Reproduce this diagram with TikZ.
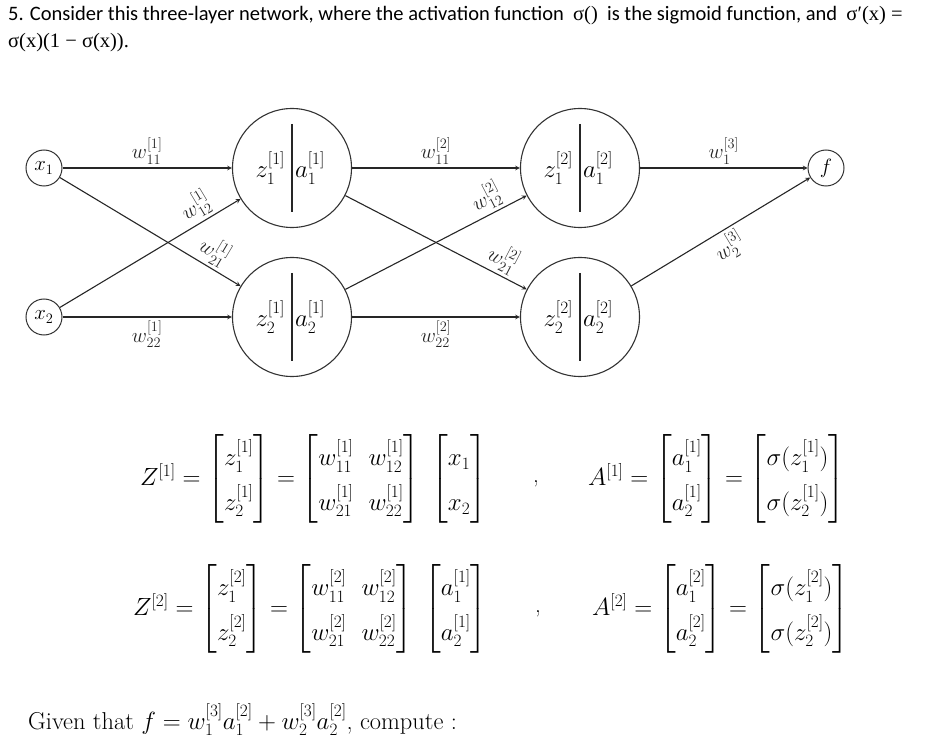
\documentclass[tikz,border=0pt]{standalone}
\usepackage{amsmath}
\usepackage{fontspec}
\newfontfamily\calib{Carlito}
\newfontfamily\serifm{Liberation Serif}
\renewcommand{\arraystretch}{1.6}
\setlength{\arraycolsep}{7.5pt}
\begin{document}
\begin{tikzpicture}[x=1pt,y=-1pt,>=stealth,
  io/.style={circle,draw=black!80,line width=1pt,minimum size=36pt,inner sep=0pt,font=\fontsize{22}{26}\selectfont},
  neuron/.style={circle,draw=black!80,line width=1.1pt,minimum size=119pt,inner sep=0pt,font=\fontsize{26}{30}\selectfont,
    path picture={\draw[black!85,line width=1.1pt] ([yshift=44pt]path picture bounding box.center)--([yshift=-44pt]path picture bounding box.center);}},
  conn/.style={->,black!85,line width=1.1pt},
  wlab/.style={font=\fontsize{22}{26}\selectfont,inner sep=3pt},
  eqn/.style={anchor=west,inner sep=0pt,font=\fontsize{23}{28}\selectfont}]
  \useasboundingbox (0,0) rectangle (938,754);
  % question text
  \node[anchor=base west,inner sep=0pt,font=\calib\fontsize{20.5}{24}\selectfont] (q1) at (8,21)
    {5. Consider this three-layer network, where the activation function \ {\serifm σ()} \ is the sigmoid function, and \ {\serifm σ′(x) =}};
  \node[anchor=base west,inner sep=0pt,font=\serifm\fontsize{20.5}{24}\selectfont] (q2) at (8,48) {σ(x)(1 − σ(x)).};
  % inputs and output
  \node[io] (x1) at (44,168) {$x_1$};
  \node[io] (x2) at (44,317) {$x_2$};
  \node[io] (f) at (826,168) {$f$};
  % hidden layers
  \node[neuron] (h11) at (292,168) {\llap{$z_1^{[1]}$\kern7pt}\rlap{\kern3pt$a_1^{[1]}$}};
  \node[neuron] (h12) at (292,317) {\llap{$z_2^{[1]}$\kern7pt}\rlap{\kern3pt$a_2^{[1]}$}};
  \node[neuron] (h21) at (580,168) {\llap{$z_1^{[2]}$\kern7pt}\rlap{\kern3pt$a_1^{[2]}$}};
  \node[neuron] (h22) at (580,317) {\llap{$z_2^{[2]}$\kern7pt}\rlap{\kern3pt$a_2^{[2]}$}};
  % layer 1
  \draw[conn] (x1) -- node[wlab,above] (w111) {$w_{11}^{[1]}$} (h11);
  \draw[conn] (x1) -- node[wlab,above,sloped,pos=0.81] (w121) {$w_{21}^{[1]}$} (h12);
  \draw[conn] (x2) -- node[wlab,above,sloped,pos=0.8] (w112) {$w_{12}^{[1]}$} (h11);
  \draw[conn] (x2) -- node[wlab,below] (w122) {$w_{22}^{[1]}$} (h12);
  % layer 2
  \draw[conn] (h11) -- node[wlab,above] (w211) {$w_{11}^{[2]}$} (h21);
  \draw[conn] (h11) -- node[wlab,above,sloped,pos=0.83] (w221) {$w_{21}^{[2]}$} (h22);
  \draw[conn] (h12) -- node[wlab,above,sloped,pos=0.82] (w212) {$w_{12}^{[2]}$} (h21);
  \draw[conn] (h12) -- node[wlab,below] (w222) {$w_{22}^{[2]}$} (h22);
  % output
  \draw[conn] (h21) -- node[wlab,above] (w31) {$w_1^{[3]}$} (f);
  \draw[conn] (h22) -- node[wlab,below,sloped] (w32) {$w_2^{[3]}$} (f);
  % equations
  \node[eqn] (z1eq) at (140,479) {$Z^{[1]} = \begin{bmatrix} z_1^{[1]} \\ z_2^{[1]} \end{bmatrix}
    = \begin{bmatrix} w_{11}^{[1]} & w_{12}^{[1]} \\ w_{21}^{[1]} & w_{22}^{[1]} \end{bmatrix}
    \; \begin{bmatrix} x_1 \\ x_2 \end{bmatrix}$};
  \node[eqn] (c1) at (533,484) {,};
  \node[eqn] (a1eq) at (588,479) {$A^{[1]} = \begin{bmatrix} a_1^{[1]} \\ a_2^{[1]} \end{bmatrix}
    = \begin{bmatrix} \sigma(z_1^{[1]}) \\ \sigma(z_2^{[1]}) \end{bmatrix}$};
  \node[eqn] (z2eq) at (133,609) {$Z^{[2]} = \begin{bmatrix} z_1^{[2]} \\ z_2^{[2]} \end{bmatrix}
    = \begin{bmatrix} w_{11}^{[2]} & w_{12}^{[2]} \\ w_{21}^{[2]} & w_{22}^{[2]} \end{bmatrix}
    \; \begin{bmatrix} a_1^{[1]} \\ a_2^{[1]} \end{bmatrix}$};
  \node[eqn] (c2) at (535,614) {,};
  \node[eqn] (a2eq) at (592,609) {$A^{[2]} = \begin{bmatrix} a_1^{[2]} \\ a_2^{[2]} \end{bmatrix}
    = \begin{bmatrix} \sigma(z_1^{[2]}) \\ \sigma(z_2^{[2]}) \end{bmatrix}$};
  % closing line
  \node[anchor=base west,inner sep=0pt,font=\fontsize{24.4}{29}\selectfont] (given) at (28,729)
    {Given that $f = w_1^{[3]}a_1^{[2]} + w_2^{[3]}a_2^{[2]}$, compute :};
\end{tikzpicture}
\end{document}
